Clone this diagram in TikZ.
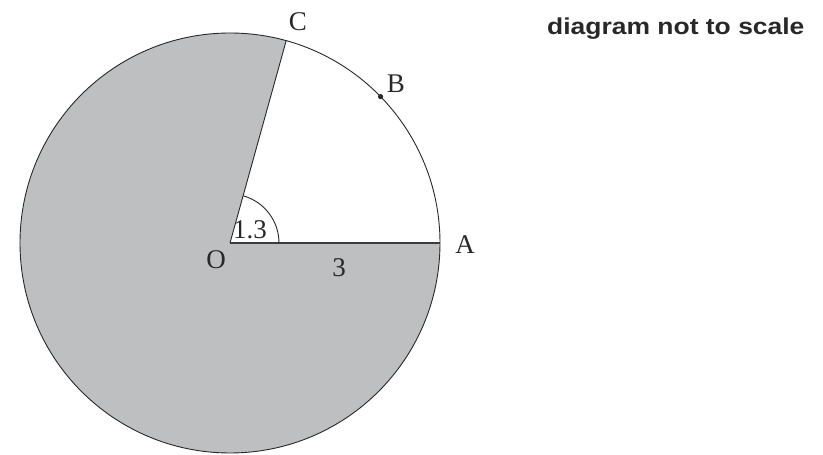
\documentclass[tikz,border=0pt]{standalone}
\usepackage{fontspec}
\usetikzlibrary{calc}
\setmainfont{Liberation Serif}
\newfontfamily\notefont{Liberation Sans}
\definecolor{greyfill}{RGB}{190,191,193}
\definecolor{ink}{RGB}{40,40,40}
\begin{document}
\begin{tikzpicture}[x=1pt,y=1pt,
  lbl/.style={font=\fontsize{27}{27}\selectfont, text=ink, inner sep=0pt},
  edge/.style={draw=ink, line width=0.9pt}]
\useasboundingbox (0,0) rectangle (823,455);
\coordinate (O) at (230,212);
\coordinate (A) at (440,212);
\coordinate (C) at ($(O)+(74.48:210)$);
\coordinate (B) at ($(O)+(44.2:210)$);
% shaded major sector
\fill[greyfill] (O) -- (C) arc[start angle=74.48, end angle=360, radius=210] -- cycle;
% outline
\draw[edge] (O) circle[radius=210];
\draw[edge] (O) -- (C);
\draw[draw=ink!90, line width=1.4pt] (O) -- (A);
% angle arc
\draw[edge] ($(O)+(49,0)$) arc[start angle=0, end angle=74.48, radius=49];
\fill[ink] (B) circle[radius=2.6];
% labels
\node[lbl] (lC) at (298,433) {C};
\node[lbl] (lB) at (396,371) {B};
\node[lbl] (lA) at (465,210) {A};
\node[lbl] (lO) at (216,195) {O};
\node[lbl] (l3) at (339,187) {3};
\node[lbl] (l13) at (250,225) {1.3};
\node[font=\notefont\bfseries\fontsize{23}{23}\selectfont, text=ink, anchor=west, inner sep=0pt, xscale=1.15] (note) at (547,426) {diagram not to scale};
\end{tikzpicture}
\end{document}
